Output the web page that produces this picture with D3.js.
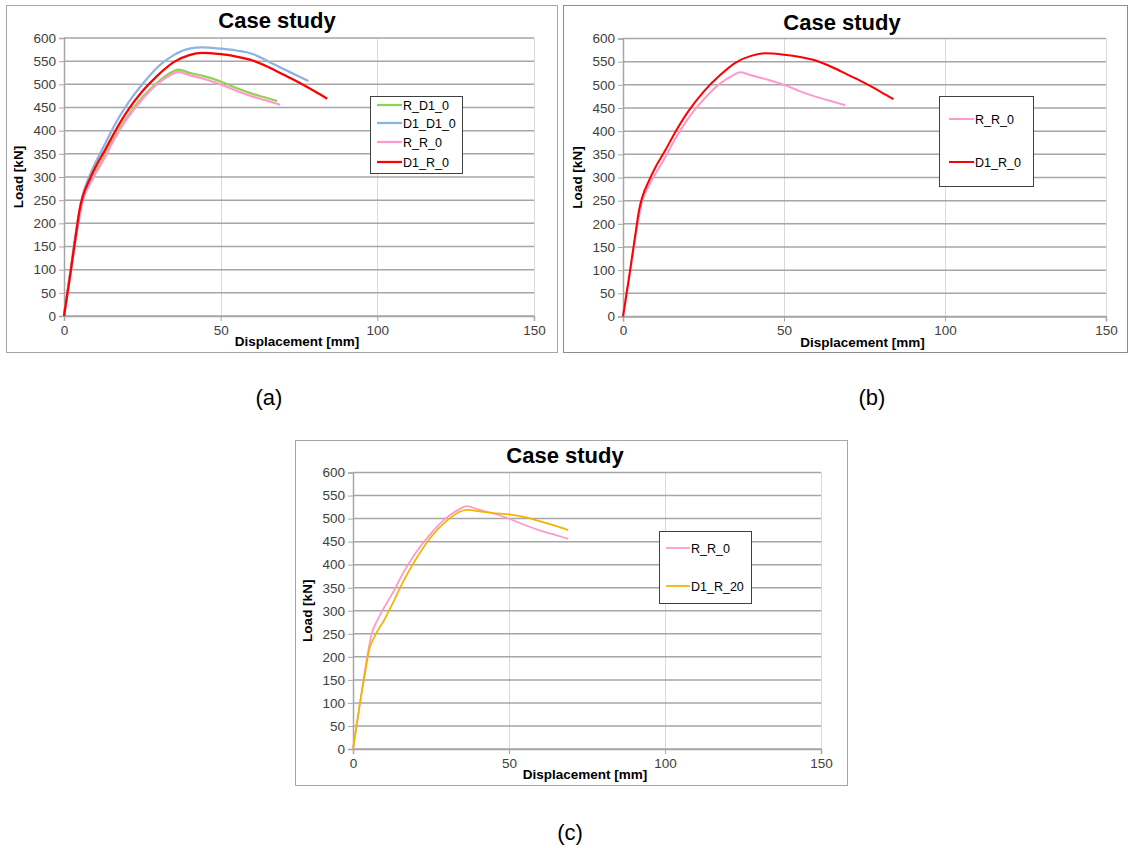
<!DOCTYPE html>
<html>
<head>
<meta charset="utf-8">
<script src="https://cdn.jsdelivr.net/npm/d3@7"></script>
<style>
  html, body { margin: 0; padding: 0; background: #ffffff; }
  svg { display: block; font-family: Arial, "Liberation Sans", sans-serif; }
</style>
</head>
<body>
<svg id="chart" width="1130" height="848"></svg>
<script>
// ---------------- DATA ----------------
const chartTitle = "Case study";
const xAxisTitle = "Displacement [mm]";
const yAxisTitle = "Load [kN]";
const xTicks = [0, 50, 100, 150];
const yTicks = [0, 50, 100, 150, 200, 250, 300, 350, 400, 450, 500, 550, 600];
const panelLabels = ["(a)", "(b)", "(c)"];

const seriesNames = ["R_D1_0", "D1_D1_0", "R_R_0", "D1_R_0", "D1_R_20"];
const seriesColors = ["#92d050", "#8db3e2", "#ff99cc", "#ff0000", "#f4b400"];

// R_D1_0
const rD10Disp = [0, 2, 4, 6, 8, 10, 13, 16, 20, 25, 30, 34, 36.5, 40, 45, 50, 55, 60, 65, 68];
const rD10Load = [0, 90, 180, 255, 287, 312, 347, 386, 428, 472, 505, 525, 532, 525, 517, 506, 492, 480, 470, 464];
// D1_D1_0
const d1D10Disp = [0, 2, 4, 6, 8, 10, 13, 16, 20, 25, 30, 35, 40, 44, 50, 55, 60, 65, 70, 75, 78];
const d1D10Load = [0, 95, 190, 262, 300, 330, 370, 410, 455, 500, 538, 563, 577, 580, 577, 573, 566, 550, 533, 517, 507];
// R_R_0
const rR0Disp = [0, 2, 4, 6, 8, 10, 13, 16, 20, 25, 30, 34, 36.5, 40, 45, 50, 55, 60, 65, 69];
const rR0Load = [0, 88, 178, 250, 282, 307, 342, 381, 425, 468, 502, 520, 527, 520, 511, 500, 486, 474, 464, 456];
// D1_R_0
const d1R0Disp = [0, 2, 4, 5, 6, 8, 10, 13, 16, 20, 25, 30, 35, 40, 44, 50, 55, 60, 65, 70, 75, 80, 84];
const d1R0Load = [0, 90, 185, 230, 258, 292, 321, 357, 395, 440, 485, 520, 548, 563, 568, 565, 560, 552, 538, 521, 504, 485, 469];
// D1_R_20
const d1R20Disp = [0, 2, 4, 5, 7, 10, 13, 16, 20, 25, 30, 35, 37, 40, 45, 50, 55, 60, 65, 69];
const d1R20Load = [0, 90, 170, 210, 245, 280, 320, 362, 410, 460, 495, 517, 519, 516, 512, 509, 503, 494, 484, 475];

const seriesDisp = [rD10Disp, d1D10Disp, rR0Disp, d1R0Disp, d1R20Disp];
const seriesLoad = [rD10Load, d1D10Load, rR0Load, d1R0Load, d1R20Load];

// which series in each panel (indices into seriesNames)
const panelSeries = [[0, 1, 2, 3], [2, 3], [2, 4]];

// ---------------- LAYOUT ----------------
const layouts = [
  { frame: [6, 5, 551, 347], frameColor: "#a6a6a6", px: [64, 534], py: [316, 38],
    title: [277, 28], label: [269, 405], lw: 2.25,
    legend: { box: [370, 96, 92, 77], x1: 377, x2: 402, ys: [105, 123, 142, 162] } },
  { frame: [563, 5, 564, 347], frameColor: "#8c8c8c", px: [623, 1106], py: [316.5, 38.5],
    title: [842, 30], label: [872, 405], lw: 2,
    legend: { box: [939, 96, 94, 90], x1: 949, x2: 974, ys: [119, 162] } },
  { frame: [295, 440, 552, 345], frameColor: "#a6a6a6", px: [353, 821], py: [749, 472.5],
    title: [565, 463], label: [570, 840], lw: 1.75,
    legend: { box: [659, 531, 92, 72], x1: 666, x2: 690, ys: [548, 586] } }
];

const svg = d3.select("#chart");

layouts.forEach((L, p) => {
  const g = svg.append("g");
  const x = d3.scaleLinear().domain([0, 150]).range(L.px);
  const y = d3.scaleLinear().domain([0, 600]).range(L.py);

  // frame
  g.append("rect")
    .attr("x", L.frame[0] + 0.5).attr("y", L.frame[1] + 0.5)
    .attr("width", L.frame[2]).attr("height", L.frame[3])
    .attr("fill", "#fff").attr("stroke", L.frameColor).attr("stroke-width", 1);

  // vertical grid (light)
  g.append("g").selectAll("line").data(xTicks.slice(1)).join("line")
    .attr("x1", d => Math.round(x(d)) + 0.5).attr("x2", d => Math.round(x(d)) + 0.5)
    .attr("y1", y(600)).attr("y2", y(0))
    .attr("stroke", "#d9d9d9").attr("stroke-width", 1);

  // horizontal grid (darker)
  g.append("g").selectAll("line").data(yTicks).join("line")
    .attr("x1", x(0)).attr("x2", x(150))
    .attr("y1", d => y(d)).attr("y2", d => y(d))
    .attr("stroke", "#a6a6a6").attr("stroke-width", 1.5);

  // axes
  const yAxis = d3.axisLeft(y).tickValues(yTicks).tickSize(5).tickPadding(3).tickFormat(d3.format("d"));
  const ya = g.append("g").attr("transform", `translate(${x(0)},0)`).call(yAxis)
    .attr("font-size", 13.5).attr("font-family", "Arial, 'Liberation Sans', sans-serif");
  ya.select(".domain").attr("stroke", "#a6a6a6").attr("stroke-width", 1.5);
  ya.selectAll(".tick line").attr("stroke", "#a6a6a6");
  ya.selectAll(".tick text").attr("fill", "#404040");

  const xAxis = d3.axisBottom(x).tickValues(xTicks).tickSize(5).tickPadding(4).tickFormat(d3.format("d"));
  const xa = g.append("g").attr("transform", `translate(0,${y(0)})`).call(xAxis)
    .attr("font-size", 13.5).attr("font-family", "Arial, 'Liberation Sans', sans-serif");
  xa.select(".domain").attr("stroke", "#a6a6a6").attr("stroke-width", 1.5);
  xa.selectAll(".tick line").attr("stroke", "#a6a6a6");
  xa.selectAll(".tick text").attr("fill", "#404040");

  // title
  g.append("text").attr("x", L.title[0]).attr("y", L.title[1])
    .attr("text-anchor", "middle").attr("font-weight", "bold").attr("font-size", 22)
    .attr("fill", "#000").text(chartTitle);

  // axis titles
  g.append("text").attr("x", (L.px[0] + L.px[1]) / 2 - 2).attr("y", L.py[0] + 30)
    .attr("text-anchor", "middle").attr("font-weight", "bold").attr("font-size", 13.5)
    .attr("fill", "#000").text(xAxisTitle);
  g.append("text")
    .attr("transform", `translate(${L.px[0] - 41},${(L.py[0] + L.py[1]) / 2}) rotate(-90)`)
    .attr("text-anchor", "middle").attr("font-weight", "bold").attr("font-size", 13.5)
    .attr("fill", "#000").text(yAxisTitle);

  // curves
  const line = d3.line().x(d => x(d[0])).y(d => y(d[1])).curve(d3.curveMonotoneX);
  panelSeries[p].forEach(si => {
    const pts = seriesDisp[si].map((d, i) => [d, seriesLoad[si][i]]);
    g.append("path").datum(pts).attr("d", line)
      .attr("fill", "none").attr("stroke", seriesColors[si])
      .attr("stroke-width", L.lw).attr("stroke-linejoin", "round");
  });

  // legend
  const lg = L.legend;
  g.append("rect").attr("x", lg.box[0] + 0.5).attr("y", lg.box[1] + 0.5)
    .attr("width", lg.box[2]).attr("height", lg.box[3])
    .attr("fill", "#fff").attr("stroke", "#404040").attr("stroke-width", 1);
  panelSeries[p].forEach((si, k) => {
    g.append("line").attr("x1", lg.x1).attr("x2", lg.x2)
      .attr("y1", lg.ys[k]).attr("y2", lg.ys[k])
      .attr("stroke", seriesColors[si]).attr("stroke-width", L.lw);
    g.append("text").attr("x", lg.x2 + 1).attr("y", lg.ys[k] + 4.5)
      .attr("font-size", 12.5).attr("fill", "#000").text(seriesNames[si]);
  });

  // panel label
  svg.append("text").attr("x", L.label[0]).attr("y", L.label[1])
    .attr("text-anchor", "middle").attr("font-size", 22).attr("fill", "#000")
    .text(panelLabels[p]);
});
</script>
</body>
</html>
